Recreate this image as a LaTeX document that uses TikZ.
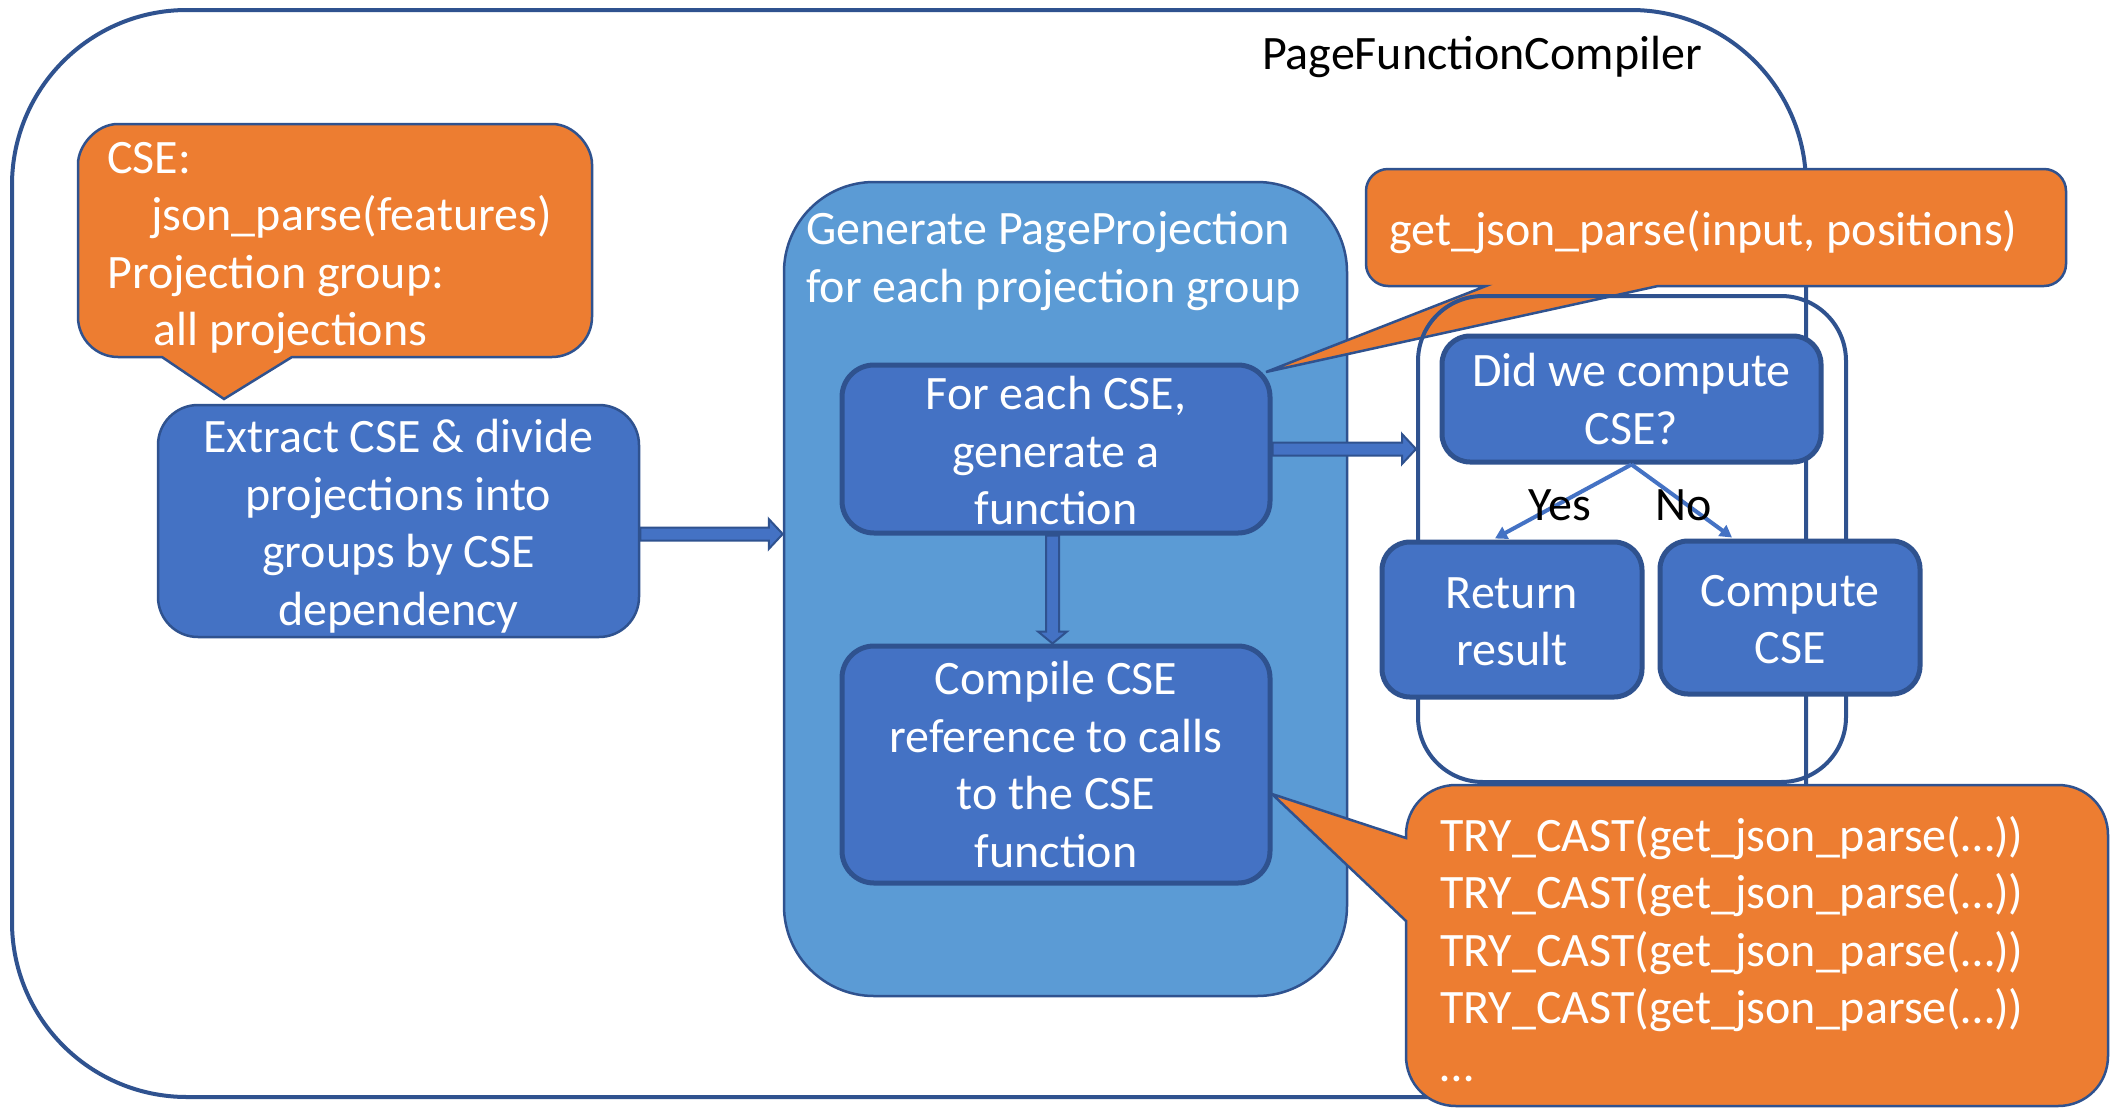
\documentclass[tikz,border=0pt]{standalone}
\usepackage{fontspec}
\setmainfont{Carlito}
\usetikzlibrary{calc,arrows.meta}
\definecolor{borderblue}{HTML}{2F528F}
\definecolor{boxblue}{HTML}{4472C4}
\definecolor{grpblue}{HTML}{5B9BD5}
\definecolor{calloutorange}{HTML}{ED7D31}
\tikzset{
  txt/.style={font=\fontsize{48}{57.5}\selectfont, inner sep=0pt},
  wtxt/.style={txt, text=white},
  stepbox/.style={fill=boxblue, draw=borderblue, line width=5pt, rounded corners=32pt, inner sep=0pt},
  thinbox/.style={fill=boxblue, draw=borderblue, line width=2.5pt, rounded corners=40pt, inner sep=0pt},
  boxtext/.style={wtxt, align=center},
  grpbox/.style={fill=grpblue, draw=borderblue, line width=2.5pt, rounded corners=90pt, inner sep=0pt},
  framebox/.style={draw=borderblue, line width=4pt, inner sep=0pt},
  callout/.style={fill=calloutorange, draw=borderblue, line width=2.5pt, line join=miter},
  blockarr/.style={fill=boxblue, draw=borderblue, line width=2pt, line join=miter},
  choice/.style={draw=boxblue, line width=4pt, -{Triangle[length=12pt,width=13pt]}},
}
\newcommand\hblockarrow[2]{%
  \draw[blockarr] ($(#1)+(0,-6.5)$) -- ($(#2)+(-14,-6.5)$) -- ($(#2)+(-14,-15)$) -- (#2)
    -- ($(#2)+(-14,15)$) -- ($(#2)+(-14,6.5)$) -- ($(#1)+(0,6.5)$) -- cycle;}
\newcommand\vblockarrow[2]{%
  \draw[blockarr] ($(#1)+(-6.5,0)$) -- ($(#2)+(-6.5,-12)$) -- ($(#2)+(-14.5,-12)$) -- (#2)
    -- ($(#2)+(14.5,-12)$) -- ($(#2)+(6.5,-12)$) -- ($(#1)+(6.5,0)$) -- cycle;}
\begin{document}
\begin{tikzpicture}[x=1pt,y=-1pt]
\fill[white] (0,0) rectangle (2118,1109);
\useasboundingbox (0,0) rectangle (2118,1109);

% outer container
\node[framebox, rounded corners=175pt, minimum width=1794pt, minimum height=1087pt] (outer) at (909,553.5) {};
\node[txt, anchor=center] (title) at (1482,57) {PageFunctionCompiler};

% group: Generate PageProjection
\node[grpbox, minimum width=563pt, minimum height=814pt] (grp) at (1065.5,589) {};
\node[wtxt, align=left, anchor=west] (grptext) at (806,261) {Generate PageProjection\\for each projection group};

% callout 1
\draw[callout] (118,124) -- (552,124) .. controls (574,124) and (592,146) .. (592,164)
  -- (592,317) .. controls (592,339) and (574,357) .. (552,357)
  -- (292,357) -- (224,399) -- (162,357)
  -- (118,357) .. controls (96,357) and (78,339) .. (78,317)
  -- (78,164) .. controls (78,146) and (96,124) .. (118,124) -- cycle;
\node[wtxt, align=left, anchor=west] (c1text) at (107,248)
  {CSE:\\\hspace*{44pt}json\_parse(features)\\Projection group:\\\hspace*{46pt}all projections};

% extract box
\node[thinbox, minimum width=481pt, minimum height=232pt] (ext) at (398.5,521) {};
\node[boxtext] (exttext) at ($(ext.center)+(0,5)$) {Extract CSE \& divide\\projections into\\groups by CSE\\dependency};

% callout 2
\draw[callout] (1388,169) -- (2044,169) .. controls (2056,169) and (2066,179) .. (2066,191)
  -- (2066,264) .. controls (2066,276) and (2056,286) .. (2044,286)
  -- (1658,286) -- (1266,372) -- (1486,286)
  -- (1388,286) .. controls (1376,286) and (1366,276) .. (1366,264)
  -- (1366,191) .. controls (1366,179) and (1376,169) .. (1388,169) -- cycle;
\node[wtxt, anchor=west] (c2text) at (1389,232) {get\_json\_parse(input, positions)};

% inner frame
\node[framebox, rounded corners=65pt, minimum width=428pt, minimum height=486pt] (inner) at (1632,539) {};

% callout 3
\draw[callout] (1456,785) -- (2058,785) .. controls (2086,785) and (2108,807) .. (2108,835)
  -- (2108,1056) .. controls (2108,1084) and (2086,1106) .. (2058,1106)
  -- (1456,1106) .. controls (1428,1106) and (1406,1084) .. (1406,1056)
  -- (1406,921) -- (1272,794) -- (1406,838)
  -- (1406,835) .. controls (1406,807) and (1428,785) .. (1456,785) -- cycle;
\node[wtxt, align=left, anchor=west] (c3text) at (1440,949)
  {TRY\_CAST(get\_json\_parse(…))\\TRY\_CAST(get\_json\_parse(…))\\TRY\_CAST(get\_json\_parse(…))\\TRY\_CAST(get\_json\_parse(…))\\…};

% step boxes
\node[stepbox, minimum width=428pt, minimum height=168pt] (fe) at (1056,449) {};
\node[boxtext] (fetext) at ($(fe.center)+(0,2)$) {For each CSE,\\generate a\\function};
\node[stepbox, minimum width=428pt, minimum height=237pt] (cmp) at (1056,764.5) {};
\node[boxtext] (cmptext) at (cmp.center) {Compile CSE\\reference to calls\\to the CSE\\function};
\node[stepbox, rounded corners=28pt, minimum width=379pt, minimum height=126pt] (did) at (1631.5,399) {};
\node[boxtext] (didtext) at (did.center) {Did we compute\\CSE?};
\node[stepbox, rounded corners=28pt, minimum width=260pt, minimum height=155pt] (ret) at (1512,619.5) {};
\node[boxtext] (rettext) at ($(ret.center)+(0,2.5)$) {Return\\result};
\node[stepbox, rounded corners=28pt, minimum width=260pt, minimum height=153pt] (comp) at (1790,617.5) {};
\node[boxtext] (comptext) at ($(comp.center)+(0,2)$) {Compute\\CSE};

% block arrows
\coordinate (a1s) at ($(ext.east)+(0,13)$);
\coordinate (a1e) at (grp.west |- a1s);
\hblockarrow{a1s}{a1e}
\coordinate (a2s) at (fe.east);
\coordinate (a2e) at (inner.west |- a2s);
\hblockarrow{a2s}{a2e}
\coordinate (a3s) at ($(fe.south)+(-3.5,0)$);
\coordinate (a3e) at (a3s |- cmp.north);
\vblockarrow{a3s}{a3e}

% yes / no
\draw[choice] (did.south) -- ($(ret.north)+(-17,-1)$);
\draw[choice] (did.south) -- ($(comp.north)+(-58,-1)$);
\node[txt] (yes) at (1560,505) {Yes};
\node[txt] (no) at (1684,505) {No};
\end{tikzpicture}
\end{document}
